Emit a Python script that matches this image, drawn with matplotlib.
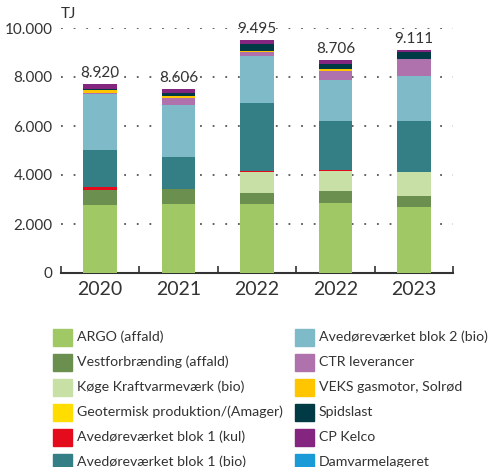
import matplotlib.pyplot as plt
from matplotlib.patches import Rectangle
import numpy as np

plt.rcParams['font.family'] = ['Lato', 'DejaVu Sans']

# data (TJ)
years = ['2020', '2021', '2022', '2022', '2023']
total_labels = ['8.920', '8.606', '9.495', '8.706', '9.111']

argo = [2780, 2810, 2810, 2850, 2700]
vest = [610, 610, 450, 490, 450]
koege = [0, 0, 870, 840, 980]
geoterm = [0, 0, 0, 0, 0]
blok1_kul = [120, 0, 30, 40, 0]
blok1_bio = [1510, 1310, 2770, 2000, 2080]
blok2_bio = [2280, 2120, 1920, 1670, 1840]
ctr = [40, 290, 160, 370, 690]
veks = [120, 80, 40, 80, 0]
spidslast = [60, 110, 300, 200, 290]
cp_kelco = [200, 180, 150, 160, 80]
damvarme = [0, 0, 0, 0, 0]

series = [
    ('ARGO (affald)', argo, '#a0c864'),
    ('Vestforbrænding (affald)', vest, '#6a8f4e'),
    ('Køge Kraftvarmeværk (bio)', koege, '#c8dfa5'),
    ('Geotermisk produktion/(Amager)', geoterm, '#ffdd00'),
    ('Avedøreværket blok 1 (kul)', blok1_kul, '#e30b1c'),
    ('Avedøreværket blok 1 (bio)', blok1_bio, '#347e85'),
    ('Avedøreværket blok 2 (bio)', blok2_bio, '#7fbac8'),
    ('CTR leverancer', ctr, '#b072ad'),
    ('VEKS gasmotor, Solrød', veks, '#ffc600'),
    ('Spidslast', spidslast, '#003a44'),
    ('CP Kelco', cp_kelco, '#842580'),
    ('Damvarmelageret', damvarme, '#1a9ad6'),
]

txt = '#333333'

fig = plt.figure(figsize=(4.9, 4.67), dpi=100)
ax = fig.add_axes([61 / 490, 1 - 273 / 467, 392 / 490, 245 / 467])

x = np.arange(len(years))
bottom = np.zeros(len(years))
for name, vals, col in series:
    ax.bar(x, vals, 0.43, bottom=bottom, color=col, zorder=3)
    bottom += np.array(vals)

for xi, top, lab in zip(x, bottom, total_labels):
    ax.annotate(lab, (xi, top), xytext=(0, 3), textcoords='offset points',
                ha='center', va='bottom', fontsize=11, color=txt)

ax.set_xlim(-0.5, len(years) - 0.5)
ax.set_ylim(0, 10000)
ax.set_yticks(range(0, 10001, 2000))
ax.set_yticklabels(['0', '2.000', '4.000', '6.000', '8.000', '10.000'])
ax.grid(axis='y', color='#555555', linestyle=(0, (1, 6)), linewidth=1.3, zorder=0)

ax.set_xticks(x)
ax.set_xticklabels(years, fontsize=14, color=txt)
ax.set_xticks(np.arange(-0.5, len(years)), minor=True)
ax.tick_params(axis='x', which='major', length=0, pad=6)
ax.tick_params(axis='x', which='minor', direction='in', length=5, width=1.2, color='#333333')
ax.tick_params(axis='y', length=0, pad=6, labelsize=11, labelcolor=txt)

for s in ['top', 'right', 'left']:
    ax.spines[s].set_visible(False)
ax.spines['bottom'].set_color('#333333')
ax.spines['bottom'].set_linewidth(1.5)

ax.text(0, 1.03, 'TJ', transform=ax.transAxes, fontsize=11, color=txt,
        ha='left', va='bottom')

# legend, two columns of six
for i, (name, vals, col) in enumerate(series):
    c, r = divmod(i, 6)
    px = (53 if c == 0 else 295) / 490
    py = 1 - (337 + 25 * r) / 467
    fig.add_artist(Rectangle((px, py - 8.5 / 467), 19 / 490, 17 / 467,
                             color=col, transform=fig.transFigure))
    fig.text(px + 24 / 490, py, name, fontsize=10.2, color=txt, va='center', ha='left')

fig.savefig('out.png', dpi=100)
